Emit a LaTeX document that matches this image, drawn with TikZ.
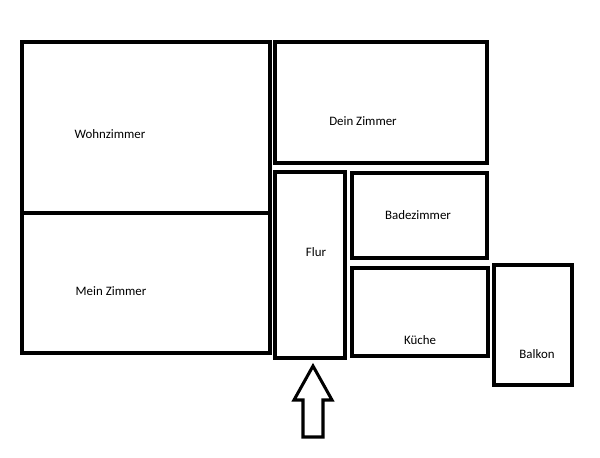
\documentclass[tikz,border=0pt]{standalone}
\usepackage{fontspec}
\setmainfont{Carlito}
\begin{document}
\begin{tikzpicture}[x=0.03cm,y=-0.03cm]
	\tikzset{wall/.style={line width=4.2pt},
		room/.style={font=\fontsize{11}{13}\selectfont}}
	\useasboundingbox (0,0) rectangle (600,457);

	\draw[wall] (22,42) rectangle (270,213);
	\draw[wall] (22,213) rectangle (270,353);
	\draw[wall] (275,42) rectangle (487,163);
	\draw[wall] (275,172) rectangle (345,358);
	\draw[wall] (352,173) rectangle (487,258);
	\draw[wall] (352,268) rectangle (488,356);
	\draw[wall] (494,265) rectangle (572,385);

	\node[room] (wohn) at (110,134) {Wohnzimmer};
	\node[room] (mein) at (111,291) {Mein Zimmer};
	\node[room] (dein) at (363,121) {Dein Zimmer};
	\node[room] (flur) at (316,252) {Flur};
	\node[room] (bad) at (418,215) {Badezimmer};
	\node[room] (kueche) at (420,340) {Küche};
	\node[room] (balkon) at (537,354) {Balkon};

	% Eingang
	\draw[line width=2.6pt,line join=miter] (313,366) -- (332,400) -- (323,400) -- (323,437)
		-- (303,437) -- (303,400) -- (294,400) -- cycle;
\end{tikzpicture}
\end{document}
